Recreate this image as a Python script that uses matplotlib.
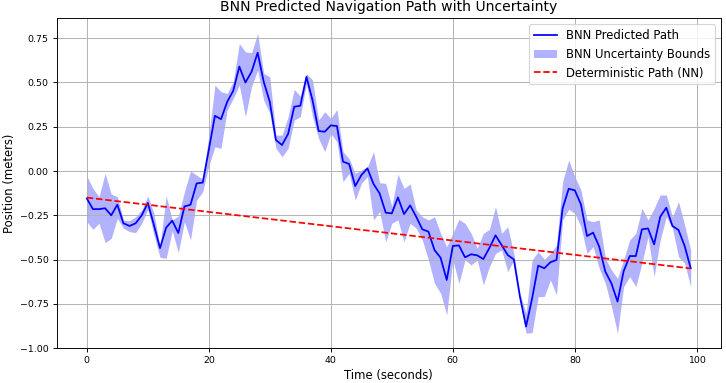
import matplotlib
matplotlib.use("Agg")
import matplotlib.pyplot as plt
import numpy as np

# values (meters)
time = np.arange(100)

mean_path = [
    -0.155, -0.215, -0.215, -0.21, -0.25, -0.19, -0.295, -0.31, -0.295, -0.25,
    -0.18, -0.305, -0.435, -0.32, -0.28, -0.35, -0.2, -0.19, -0.07, -0.065,
    0.12, 0.312, 0.293, 0.39, 0.453, 0.59, 0.50, 0.56, 0.668, 0.504,
    0.39, 0.175, 0.147, 0.21, 0.363, 0.369, 0.532, 0.40, 0.226, 0.222,
    0.258, 0.254, 0.053, 0.04, -0.085, -0.023, 0.015, -0.073, -0.126, -0.235,
    -0.239, -0.149, -0.243, -0.194, -0.258, -0.329, -0.342, -0.446, -0.49, -0.615,
    -0.423, -0.42, -0.487, -0.47, -0.476, -0.497, -0.434, -0.363, -0.418, -0.474,
    -0.499, -0.709, -0.878, -0.719, -0.534, -0.549, -0.515, -0.502, -0.211, -0.10,
    -0.109, -0.188, -0.367, -0.348, -0.427, -0.568, -0.634, -0.737, -0.566, -0.48,
    -0.48, -0.329, -0.324, -0.414, -0.258, -0.207, -0.31, -0.333, -0.423, -0.549,
]

upper_bound = [
    -0.028, -0.098, -0.145, -0.013, -0.130, -0.145, -0.276, -0.280, -0.258, -0.220,
    -0.141, -0.239, -0.427, -0.139, -0.276, -0.254, -0.117, 0.0, -0.023, -0.047,
    0.20, 0.485, 0.448, 0.438, 0.504, 0.72, 0.673, 0.668, 0.777, 0.551,
    0.532, 0.203, 0.203, 0.307, 0.461, 0.423, 0.551, 0.514, 0.288, 0.335,
    0.297, 0.348, 0.109, 0.07, -0.013, 0.006, 0.024, 0.109, -0.066, -0.070,
    -0.20, -0.017, -0.098, -0.073, -0.220, -0.258, -0.276, -0.258, -0.352, -0.427,
    -0.352, -0.273, -0.295, -0.352, -0.436, -0.352, -0.329, -0.201, -0.352, -0.314,
    -0.465, -0.69, -0.803, -0.502, -0.455, -0.498, -0.465, -0.418, -0.060, 0.062,
    -0.032, -0.107, -0.276, -0.286, -0.276, -0.493, -0.558, -0.606, -0.50, -0.389,
    -0.352, -0.211, -0.276, -0.211, -0.135, -0.135, -0.258, -0.173, -0.305, -0.446,
]

lower_bound = [
    -0.286, -0.329, -0.295, -0.404, -0.380, -0.267, -0.323, -0.342, -0.348, -0.295,
    -0.216, -0.361, -0.487, -0.493, -0.337, -0.461, -0.286, -0.389, -0.164, -0.117,
    0.03, 0.137, 0.128, 0.344, 0.41, 0.485, 0.307, 0.476, 0.57, 0.40,
    0.325, 0.128, 0.081, 0.128, 0.288, 0.307, 0.495, 0.307, 0.184, 0.109,
    0.212, 0.165, -0.060, -0.013, -0.164, -0.070, -0.032, -0.276, -0.229, -0.399,
    -0.295, -0.276, -0.399, -0.295, -0.323, -0.389, -0.502, -0.634, -0.690, -0.813,
    -0.502, -0.634, -0.502, -0.530, -0.502, -0.643, -0.540, -0.465, -0.446, -0.568,
    -0.502, -0.718, -0.916, -0.912, -0.709, -0.709, -0.615, -0.70, -0.276, -0.216,
    -0.239, -0.314, -0.465, -0.427, -0.549, -0.634, -0.765, -0.916, -0.653, -0.596,
    -0.653, -0.521, -0.370, -0.596, -0.389, -0.258, -0.323, -0.483, -0.521, -0.653,
]

# deterministic NN path: straight line between its end points
det_time = [0, 99]
det_path = [-0.15, -0.55]

fig, ax = plt.subplots(figsize=(726 / 84, 383 / 84), dpi=84)

ax.plot(time, mean_path, color='blue', linewidth=1.5, label='BNN Predicted Path')
ax.fill_between(time, lower_bound, upper_bound, color='blue', alpha=0.3,
                linewidth=0, label='BNN Uncertainty Bounds')
ax.plot(det_time, det_path, 'r--', linewidth=1.5, label='Deterministic Path (NN)')

ax.set_title('BNN Predicted Navigation Path with Uncertainty', fontsize=12)
ax.set_xlabel('Time (seconds)', fontsize=10, labelpad=3)
ax.set_ylabel('Position (meters)', fontsize=10, labelpad=3)
ax.tick_params(labelsize=8)
ax.set_ylim(-1.0, 0.862)
ax.grid(True)
ax.legend(loc='upper right', fontsize=10)

fig.subplots_adjust(left=0.078, right=0.993, top=0.952, bottom=0.091)
plt.savefig('out.png')
